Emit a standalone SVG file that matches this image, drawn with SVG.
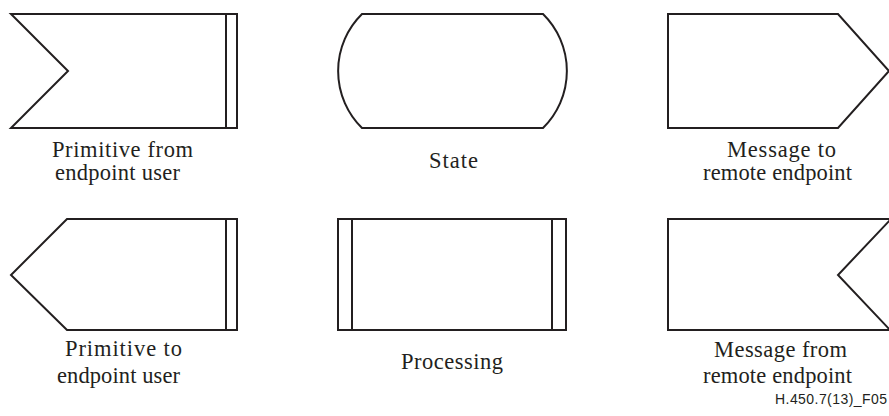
<svg xmlns="http://www.w3.org/2000/svg" width="889" height="416" viewBox="0 0 889 416">
<style>
.s{fill:#fff;stroke:#231f20;stroke-width:2;stroke-linejoin:miter}
.l{stroke:#231f20;stroke-width:2;fill:none}
.t{font-family:"Liberation Serif","Times New Roman",serif;font-size:22.5px;fill:#231f20;text-anchor:middle}
.c{font-family:"Liberation Sans",Arial,sans-serif;font-size:14px;fill:#231f20}
</style>
<rect width="889" height="416" fill="#fff"/>
<g id="primitive-from">
<polygon class="s" points="11,14 237,14 237,128 11,128 68,71"/>
<line class="l" x1="226" y1="14" x2="226" y2="128"/>
<text class="t" x="122.5" y="157" textLength="141" lengthAdjust="spacing">Primitive from</text>
<text class="t" x="117.5" y="180" textLength="125" lengthAdjust="spacing">endpoint user</text>
</g>
<g id="state">
<path class="s" d="M362,14 H543 A80,80 0 0 1 543,128 H362 A80,80 0 0 1 362,14 Z"/>
<text class="t" x="453.5" y="168" textLength="49" lengthAdjust="spacing">State</text>
</g>
<g id="message-to">
<polygon class="s" points="668,14 838,14 889,71 838,128 668,128"/>
<text class="t" x="781.5" y="157" textLength="109" lengthAdjust="spacing">Message to</text>
<text class="t" x="777.5" y="180" textLength="149" lengthAdjust="spacing">remote endpoint</text>
</g>
<g id="primitive-to">
<polygon class="s" points="67,219 237,219 237,330 67,330 11,275"/>
<line class="l" x1="226" y1="219" x2="226" y2="330"/>
<text class="t" x="123.5" y="356" textLength="117" lengthAdjust="spacing">Primitive to</text>
<text class="t" x="118.5" y="383" textLength="123" lengthAdjust="spacing">endpoint user</text>
</g>
<g id="processing">
<rect class="s" x="338" y="219" width="228" height="111"/>
<line class="l" x1="352" y1="219" x2="352" y2="330"/>
<line class="l" x1="552" y1="219" x2="552" y2="330"/>
<text class="t" x="452" y="369" textLength="102" lengthAdjust="spacing">Processing</text>
</g>
<g id="message-from">
<polygon class="s" points="668,219 891,219 838,275 891,331 891,330 668,330"/>
<text class="t" x="780.5" y="357" textLength="133" lengthAdjust="spacing">Message from</text>
<text class="t" x="777.5" y="383" textLength="149" lengthAdjust="spacing">remote endpoint</text>
</g>
<g id="connectors"></g>
<text class="c" x="775" y="404" textLength="112" lengthAdjust="spacing">H.450.7(13)_F05</text>
</svg>
